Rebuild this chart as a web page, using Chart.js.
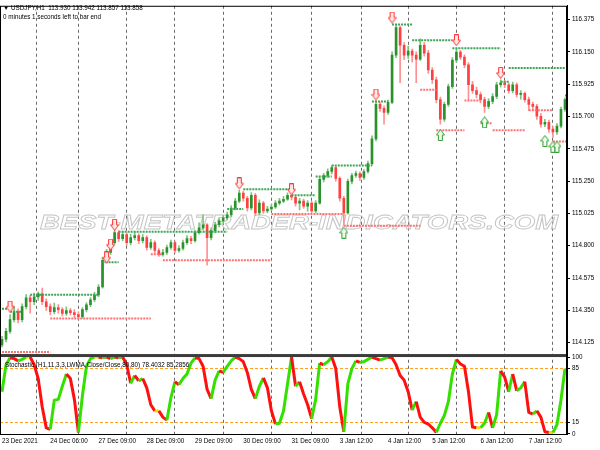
<!DOCTYPE html>
<html>
<head>
<meta charset="utf-8">
<script src="https://cdn.jsdelivr.net/npm/chart.js@4/dist/chart.umd.min.js"></script>
<style>
  html, body { margin: 0; padding: 0; background: #fff; }
  canvas { display: block; }
</style>
</head>
<body>
<canvas id="chart" width="600" height="450"></canvas>
<script>
// USDJPY H1 candles (one candle ~ every 4 px)
const opens = [
  114.110, 114.149, 114.204, 114.286, 114.341, 114.286, 114.376, 114.437, 114.410, 114.444,
  114.465, 114.410, 114.376, 114.341, 114.369, 114.355, 114.328, 114.348, 114.334, 114.321,
  114.307, 114.355, 114.389, 114.424, 114.458, 114.513, 114.699, 114.753, 114.822, 114.891,
  114.850, 114.877, 114.822, 114.857, 114.870, 114.836, 114.857, 114.788, 114.822, 114.767,
  114.740, 114.753, 114.788, 114.822, 114.767, 114.781, 114.822, 114.850, 114.836, 114.891,
  114.925, 114.946, 114.857, 114.905, 114.946, 114.973, 114.994, 115.015, 115.063, 115.111,
  115.166, 115.131, 115.063, 115.152, 115.028, 115.097, 115.042, 115.056, 115.070, 115.097,
  115.111, 115.124, 115.152, 115.138, 115.097, 115.111, 115.076, 115.097, 115.042, 115.097,
  115.262, 115.289, 115.317, 115.344, 115.269, 115.131, 115.028, 115.248, 115.289, 115.303,
  115.276, 115.317, 115.372, 115.544, 115.784, 115.757, 115.729, 115.798, 116.127, 116.320,
  116.196, 116.127, 116.155, 116.127, 116.100, 116.196, 116.141, 116.024, 115.956, 115.818,
  115.681, 115.784, 115.908, 116.093, 116.148, 116.114, 116.059, 115.921, 115.880, 115.853,
  115.818, 115.770, 115.805, 115.839, 115.921, 115.935, 115.921, 115.880, 115.921, 115.853,
  115.862, 115.818, 115.784, 115.770, 115.702, 115.647, 115.660, 115.612, 115.592, 115.633,
  115.750
];
const highs = [
  114.170, 114.225, 114.320, 114.380, 114.360, 114.395, 114.460, 114.455, 114.470, 114.480,
  114.506, 114.430, 114.395, 114.400, 114.390, 114.370, 114.375, 114.365, 114.355, 114.340,
  114.370, 114.405, 114.440, 114.475, 114.530, 114.720, 114.775, 114.840, 114.910, 114.905,
  114.900, 114.890, 114.880, 114.895, 114.885, 114.878, 114.870, 114.845, 114.835, 114.780,
  114.775, 114.805, 114.840, 114.832, 114.800, 114.840, 114.870, 114.865, 114.905, 114.960,
  115.015, 114.955, 114.925, 114.965, 114.990, 115.010, 115.035, 115.080, 115.130, 115.190,
  115.180, 115.145, 115.170, 115.165, 115.120, 115.110, 115.075, 115.090, 115.115, 115.130,
  115.145, 115.168, 115.172, 115.150, 115.130, 115.125, 115.115, 115.110, 115.115, 115.280,
  115.305, 115.335, 115.358, 115.352, 115.280, 115.145, 115.265, 115.305, 115.320, 115.315,
  115.330, 115.390, 115.565, 115.805, 115.800, 115.775, 115.815, 116.150, 116.340, 116.330,
  116.215, 116.190, 116.170, 116.150, 116.240, 116.215, 116.160, 116.040, 115.975, 115.835,
  115.800, 115.925, 116.110, 116.170, 116.160, 116.130, 116.075, 115.945, 115.905, 115.870,
  115.835, 115.825, 115.860, 115.940, 115.955, 115.950, 115.935, 115.940, 115.935, 115.880,
  115.870, 115.835, 115.800, 115.785, 115.720, 115.680, 115.675, 115.630, 115.650, 115.765,
  115.830
];
const lows = [
  114.095, 114.130, 114.190, 114.270, 114.262, 114.270, 114.360, 114.330, 114.390, 114.420,
  114.390, 114.350, 114.320, 114.325, 114.330, 114.310, 114.315, 114.318, 114.300, 114.290,
  114.295, 114.340, 114.375, 114.410, 114.445, 114.505, 114.680, 114.740, 114.810, 114.830,
  114.835, 114.800, 114.805, 114.840, 114.815, 114.820, 114.770, 114.775, 114.750, 114.725,
  114.728, 114.740, 114.775, 114.750, 114.755, 114.770, 114.810, 114.815, 114.825, 114.880,
  114.910, 114.664, 114.840, 114.890, 114.930, 114.955, 114.980, 115.000, 115.050, 115.100,
  115.110, 115.040, 115.050, 115.010, 115.015, 115.025, 115.030, 115.045, 115.060, 115.085,
  115.100, 115.115, 115.120, 115.075, 115.050, 115.060, 115.040, 115.030, 115.030, 115.090,
  115.245, 115.275, 115.300, 115.250, 115.110, 114.946, 115.020, 115.230, 115.275, 115.255,
  115.262, 115.305, 115.360, 115.530, 115.735, 115.647, 115.715, 115.790, 116.110, 115.935,
  116.095, 116.105, 116.080, 115.935, 116.090, 116.120, 116.000, 115.930, 115.795, 115.647,
  115.665, 115.770, 115.895, 116.075, 116.095, 116.040, 115.818, 115.860, 115.830, 115.795,
  115.729, 115.755, 115.790, 115.825, 115.905, 115.900, 115.860, 115.865, 115.835, 115.820,
  115.800, 115.740, 115.745, 115.680, 115.625, 115.630, 115.590, 115.554, 115.575, 115.620,
  115.735
];
const closes = [
  114.149, 114.204, 114.286, 114.341, 114.286, 114.376, 114.437, 114.410, 114.444, 114.465,
  114.410, 114.376, 114.341, 114.369, 114.355, 114.328, 114.348, 114.334, 114.321, 114.307,
  114.355, 114.389, 114.424, 114.458, 114.513, 114.699, 114.753, 114.822, 114.891, 114.850,
  114.877, 114.822, 114.857, 114.870, 114.836, 114.857, 114.788, 114.822, 114.767, 114.740,
  114.753, 114.788, 114.822, 114.767, 114.781, 114.822, 114.850, 114.836, 114.891, 114.925,
  114.946, 114.857, 114.905, 114.946, 114.973, 114.994, 115.015, 115.063, 115.111, 115.166,
  115.131, 115.063, 115.152, 115.028, 115.097, 115.042, 115.056, 115.070, 115.097, 115.111,
  115.124, 115.152, 115.138, 115.097, 115.111, 115.076, 115.097, 115.042, 115.097, 115.262,
  115.289, 115.317, 115.344, 115.269, 115.131, 115.028, 115.248, 115.289, 115.303, 115.276,
  115.317, 115.372, 115.544, 115.784, 115.757, 115.729, 115.798, 116.127, 116.320, 116.196,
  116.127, 116.155, 116.127, 116.100, 116.196, 116.141, 116.024, 115.956, 115.818, 115.681,
  115.784, 115.908, 116.093, 116.148, 116.114, 116.059, 115.921, 115.880, 115.853, 115.818,
  115.770, 115.805, 115.839, 115.921, 115.935, 115.921, 115.880, 115.921, 115.853, 115.862,
  115.818, 115.784, 115.770, 115.702, 115.647, 115.660, 115.612, 115.592, 115.633, 115.750,
  115.818
];

// Stochastic main line, same bars
const stoch = [
  55, 90, 99, 98, 95, 97, 100, 100, 90, 72,
  35, 8, 6, 44, 45, 62, 78, 72, 45, 2,
  50, 88, 98, 100, 100, 99, 100, 98, 100, 99,
  100, 90, 66, 76, 69, 72, 60, 38, 30, 30,
  22, 18, 47, 68, 64, 72, 78, 92, 99, 98,
  88, 58, 46, 70, 82, 80, 88, 95, 100, 98,
  94, 80, 58, 46, 62, 73, 60, 30, 13, 14,
  30, 65, 100, 62, 68, 52, 38, 20, 45, 92,
  90, 94, 100, 85, 35, 3, 65, 85, 95, 93,
  94, 97, 100, 98, 96, 98, 100, 99, 90, 76,
  70, 55, 31, 42, 22, 15, 13, 8, 2, 14,
  24, 42, 78, 97, 91, 88, 55, 9, 8, 8,
  14, 28, 8, 25, 82, 74, 55, 78, 56, 60,
  68, 28, 26, 30, 22, 3, 2, 2, 12, 44,
  85
];

// levels: [fromBar, toBar, price]
const resistLevels = [
  [0, 2, 114.362], [2, 5, 114.341], [7, 24, 114.458], [25, 29, 114.685],
  [29, 56, 114.898], [56, 60, 115.056], [60, 72, 115.193], [72, 78, 115.152],
  [78, 82, 115.283], [82, 92, 115.358], [92, 96, 115.805], [97, 102, 116.340],
  [102, 112, 116.231], [112, 124, 116.176], [124, 126, 115.942], [126, 140, 116.038],
  [140, 140.5, 115.846]
];
const supportLevels = [
  [0, 12, 114.060], [12, 37, 114.293], [37, 40, 114.740], [40, 67, 114.699],
  [67, 85, 115.021], [85, 104, 114.939], [104, 108, 115.887], [108, 115, 115.605],
  [115, 119, 115.812], [119, 122, 115.653], [122, 130, 115.605], [131, 137, 115.743],
  [137, 140.5, 115.526]
];

// arrows: [bar, price]
const downArrows = [
  [2, 114.376], [26, 114.719], [27, 114.808], [28, 114.946], [59, 115.234],
  [72, 115.193], [93, 115.853], [97, 116.389], [113, 116.231], [124, 116.004]
];
const upArrows = [
  [85, 114.891], [109, 115.571], [120, 115.660], [135, 115.530], [137, 115.489], [138, 115.489]
];

// axes
const priceTicks = [114.125, 114.350, 114.575, 114.800, 115.025, 115.250, 115.475, 115.700, 115.925, 116.150, 116.375];
const stochTicks = [0, 15, 85, 100];
const stochLevels = [15, 85];
const timeLabels = ['23 Dec 2021', '24 Dec 06:00', '27 Dec 09:00', '28 Dec 09:00', '29 Dec 09:00', '30 Dec 09:00',
  '31 Dec 09:00', '3 Jan 12:00', '4 Jan 12:00', '5 Jan 12:00', '6 Jan 12:00', '7 Jan 12:00'];
const labelBars = [0, 12, 24, 36, 48, 60, 72, 84, 96, 107, 119, 131];
const gridBars = [8.5, 19, 31, 43, 55, 67, 77, 89.5, 101, 113, 125, 137];

const FONT = 'Liberation Sans';
Chart.defaults.font.family = FONT;
Chart.defaults.font.size = 6.3;
Chart.defaults.color = '#000';

const bull = closes.map((c, i) => c >= opens[i]);

function arrowImage(down, stroke, fill) {
  const c = document.createElement('canvas');
  c.width = 9; c.height = 12;
  const g = c.getContext('2d');
  g.beginPath();
  if (down) {
    g.moveTo(2.5, 0.5); g.lineTo(6.5, 0.5); g.lineTo(6.5, 6); g.lineTo(8.5, 6);
    g.lineTo(4.5, 11.5); g.lineTo(0.5, 6); g.lineTo(2.5, 6);
  } else {
    g.moveTo(2.5, 11.5); g.lineTo(6.5, 11.5); g.lineTo(6.5, 6); g.lineTo(8.5, 6);
    g.lineTo(4.5, 0.5); g.lineTo(0.5, 6); g.lineTo(2.5, 6);
  }
  g.closePath();
  g.fillStyle = fill; g.fill();
  g.strokeStyle = stroke; g.lineWidth = 1; g.stroke();
  return c;
}

const levelSet = (lv, color) => lv.map(([a, b, p]) => ({
  type: 'line',
  data: [{x: a, y: p}, {x: b, y: p}],
  borderColor: color,
  borderWidth: 2,
  borderDash: [2, 1],
  pointRadius: 0,
  order: 3
}));

// texts, separator and frame (MT4 look)
const decor = {
  id: 'decor',
  beforeDatasetsDraw(chart) {
    const ctx = chart.ctx;
    const text = 'BEST-METATRADER-INDICATORS.COM';
    ctx.save();
    ctx.font = 'italic bold 21px "' + FONT + '"';
    const w = ctx.measureText(text).width;
    ctx.translate(40, 229);
    ctx.scale(518 / w, 1);
    ctx.strokeStyle = '#c4c4c4';
    ctx.lineWidth = 0.8;
    ctx.strokeText(text, 0, 0);
    ctx.restore();
  },
  afterDatasetsDraw(chart) {
    const ctx = chart.ctx;
    const a = chart.chartArea;
    const sepY = chart.scales.y.bottom;
    ctx.save();
    ctx.fillStyle = '#3c3c3c';
    ctx.fillRect(a.left, sepY - 2, a.right - a.left, 3);
    ctx.strokeStyle = '#000';
    ctx.lineWidth = 1;
    ctx.strokeRect(a.left + 0.5, a.top + 0.5, a.right - a.left - 1, a.bottom - a.top);
    ctx.fillStyle = '#000';
    ctx.font = '6.3px "' + FONT + '"';
    ctx.textBaseline = 'middle';
    ctx.fillText('\u25BC USDJPY,H1  113.930 113.942 113.857 113.858', 3, 8);
    ctx.fillText('0 minutes 1 seconds left to bar end', 3, 17);
    ctx.fillText('Stochastic (H1,11,3,3,LWMA,Close/Close,80,80) 78.4032 85.2856', 5, sepY + 9);
    ctx.restore();
  }
};

new Chart(document.getElementById('chart'), {
  type: 'bar',
  data: {
    datasets: [
      {
        // wicks
        data: lows.map((l, i) => ({x: i, y: [l, highs[i]]})),
        backgroundColor: bull.map(b => b ? '#7cc47c' : '#ff9090'),
        barThickness: 1,
        grouped: false,
        order: 6
      },
      {
        // bodies
        data: opens.map((o, i) => ({x: i, y: [o, closes[i]]})),
        backgroundColor: bull.map(b => b ? '#2a922a' : '#ff4040'),
        barThickness: 2,
        minBarLength: 1,
        grouped: false,
        order: 5
      },
      ...levelSet(resistLevels, '#3aa655'),
      ...levelSet(supportLevels, '#ff7070'),
      {
        type: 'line',
        data: downArrows.map(([i, p]) => ({x: i, y: p})),
        showLine: false,
        pointStyle: arrowImage(true, '#ff3030', '#ffe8e8'),
        order: 1
      },
      {
        type: 'line',
        data: upArrows.map(([i, p]) => ({x: i, y: p})),
        showLine: false,
        pointStyle: arrowImage(false, '#3a9a3a', '#eaffea'),
        order: 1
      },
      {
        type: 'line',
        yAxisID: 'y2',
        data: stoch.map((v, i) => ({x: i, y: v})),
        borderWidth: 3,
        borderColor: '#33e000',
        pointRadius: 0,
        borderJoinStyle: 'round',
        segment: {
          borderColor: c => c.p1.parsed.y > c.p0.parsed.y ? '#33e000'
            : (c.p1.parsed.y < c.p0.parsed.y ? '#ff1010' : '#f0e000')
        },
        order: 2
      }
    ]
  },
  options: {
    responsive: false,
    animation: false,
    layout: { padding: 0, autoPadding: false },
    plugins: {
      legend: { display: false },
      tooltip: { enabled: false }
    },
    scales: {
      x: {
        type: 'linear',
        min: -0.5,
        max: closes.length - 0.5,
        offset: false,
        afterBuildTicks: s => {
          s.ticks = [...labelBars, ...gridBars].sort((a, b) => a - b).map(v => ({value: v}));
        },
        afterFit: s => { s.height = 16; },
        ticks: {
          autoSkip: false,
          maxRotation: 0,
          align: 'start',
          padding: 0,
          callback: v => {
            const k = labelBars.indexOf(v);
            return k >= 0 ? timeLabels[k] : '';
          }
        },
        grid: {
          offset: false,
          drawTicks: true,
          tickLength: 3,
          tickColor: 'rgba(0,0,0,0)',
          color: c => c.tick && gridBars.includes(c.tick.value) ? '#6a6a6a' : 'rgba(0,0,0,0)'
        },
        border: { display: true, color: '#000', dash: [3, 3] }
      },
      y: {
        type: 'linear',
        position: 'right',
        stack: 'panes',
        stackWeight: 355,
        min: 114.032,
        max: 116.471,
        afterBuildTicks: s => { s.ticks = priceTicks.map(v => ({value: v})); },
        afterFit: s => { s.width = 33; },
        ticks: { padding: 2, callback: v => v.toFixed(3) },
        grid: { drawOnChartArea: false, tickLength: 3, color: '#000' },
        border: { display: true, color: '#000' }
      },
      y2: {
        type: 'linear',
        position: 'right',
        stack: 'panes',
        stackWeight: 79,
        min: 0,
        max: 101.3,
        afterBuildTicks: s => { s.ticks = stochTicks.map(v => ({value: v})); },
        afterFit: s => { s.width = 33; },
        ticks: { padding: 2 },
        grid: {
          tickLength: 3,
          tickColor: '#000',
          color: c => c.tick && stochLevels.includes(c.tick.value) ? '#ffa020' : 'rgba(0,0,0,0)'
        },
        border: { display: true, color: '#000', dash: [3, 2] }
      }
    }
  },
  plugins: [decor]
});
</script>
</body>
</html>
